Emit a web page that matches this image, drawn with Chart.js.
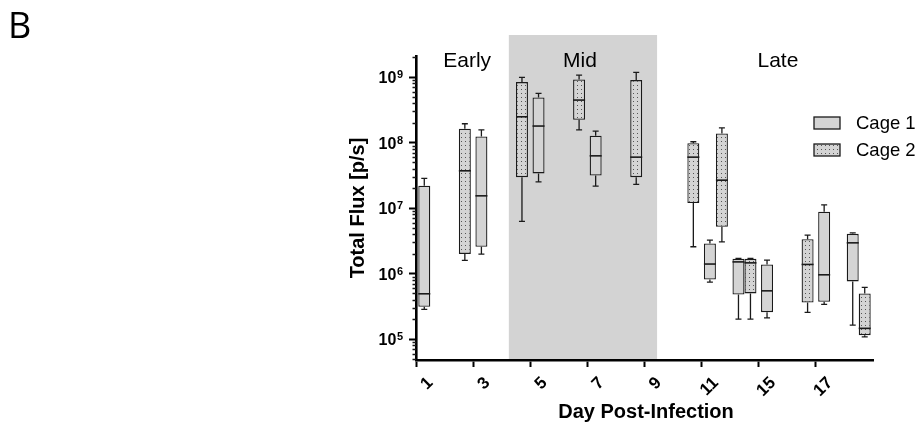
<!DOCTYPE html>
<html><head><meta charset="utf-8">
<script src="https://cdn.jsdelivr.net/npm/chart.js@4.4.1/dist/chart.umd.min.js"></script>
<style>html,body{margin:0;padding:0;background:#fff;}</style>
</head><body>
<canvas id="c" width="920" height="431"></canvas>
<script>
// ---- data ----
const slots = ['s1','s2','s3','s4','s5','s6','s7','s8','s9','s10','s11','s12','s13','s14','s15','s16'];
const tickLabels = ['1','','3','','5','','7','','9','','11','','15','','17',''];
const seriesNames = ['Cage 1','Cage 2'];
const cage1Min = [2.84e5,null,1.99e6,null,2.52e7,null,2.17e7,null,null,null,7.41e5,2.02e5,2.11e5,null,3.39e5,1.64e5];
const cage1Q1  = [3.11e5,null,2.57e6,null,3.39e7,null,3.15e7,null,null,null,8.15e5,4.81e5,2.58e5,null,3.71e5,7.6e5];
const cage1Med = [4.92e5,null,1.54e7,null,1.79e8,null,6.28e7,null,null,null,1.40e6,1.51e6,5.46e5,null,9.59e5,2.95e6];
const cage1Q3  = [2.19e7,null,1.24e8,null,4.9e8,null,1.27e8,null,null,null,2.89e6,1.69e6,1.38e6,null,8.78e6,4.05e6];
const cage1Max = [2.84e7,null,1.57e8,null,5.64e8,null,1.5e8,null,null,null,3.24e6,1.71e6,1.61e6,null,1.12e7,4.2e6];
const cage2Min = [null,1.59e6,null,6.27e6,null,1.57e8,null,2.3e7,null,2.57e6,3.06e6,2.02e5,null,2.56e5,null,1.08e5];
const cage2Q1  = [null,2.0e6,null,2.97e7,null,2.23e8,null,2.97e7,null,1.2e7,5.19e6,4.99e5,null,3.63e5,null,1.15e5];
const cage2Med = [null,3.71e7,null,2.48e8,null,4.46e8,null,6.0e7,null,6.0e7,2.67e7,1.46e6,null,1.38e6,null,1.46e5];
const cage2Q3  = [null,1.63e8,null,8.39e8,null,9.2e8,null,9.0e8,null,9.8e7,1.38e8,1.68e6,null,3.36e6,null,4.99e5];
const cage2Max = [null,1.94e8,null,9.9e8,null,1.07e9,null,1.18e9,null,1.03e8,1.68e8,1.71e6,null,3.87e6,null,6.15e5];
const phaseNames = ['Early','Mid','Late'];

// ---- styles ----
const FONT = "'Liberation Sans', Arial, sans-serif";
const BOXFILL = '#d4d4d4';
const INK = '#1a1a1a';
function dotPattern() {
  const p = document.createElement('canvas');
  p.width = 4; p.height = 4;
  const g = p.getContext('2d');
  g.fillStyle = BOXFILL; g.fillRect(0,0,4,4);
  g.fillStyle = '#555'; g.fillRect(1,1,1,1);
  return g.createPattern(p, 'repeat');
}
const DOTS = dotPattern();

function isPow10(v){ const e = Math.log10(v); return Math.abs(e - Math.round(e)) < 1e-9; }

const stats = [
  {min:cage1Min,q1:cage1Q1,med:cage1Med,q3:cage1Q3,max:cage1Max},
  {min:cage2Min,q1:cage2Q1,med:cage2Med,q3:cage2Q3,max:cage2Max}
];

const boxPlugin = {
  id: 'boxExtras',
  beforeDraw(chart) {
    const {ctx, chartArea, scales:{x}} = chart;
    const x0 = x.getPixelForValue(2.75), x1 = x.getPixelForValue(7.94);
    ctx.save();
    ctx.fillStyle = '#d3d3d3';
    ctx.fillRect(x0, chartArea.top - 21, x1 - x0, chartArea.bottom - chartArea.top + 21);
    ctx.restore();
  },
  afterDatasetsDraw(chart) {
    const {ctx, chartArea, scales:{x, y}} = chart;
    ctx.save();
    ctx.strokeStyle = INK;
    stats.forEach((s, di) => {
      const meta = chart.getDatasetMeta(di);
      meta.data.forEach((bar, i) => {
        if (s.q1[i] == null) return;
        const cx = bar.x, w = bar.width;
        const yMin = y.getPixelForValue(s.min[i]), yQ1 = y.getPixelForValue(s.q1[i]);
        const yMed = y.getPixelForValue(s.med[i]);
        const yQ3 = y.getPixelForValue(s.q3[i]), yMax = y.getPixelForValue(s.max[i]);
        ctx.lineWidth = 1.3;
        ctx.beginPath();
        ctx.moveTo(cx, yQ3); ctx.lineTo(cx, yMax);
        ctx.moveTo(cx - 3, yMax); ctx.lineTo(cx + 3, yMax);
        ctx.moveTo(cx, yQ1); ctx.lineTo(cx, yMin);
        ctx.moveTo(cx - 3, yMin); ctx.lineTo(cx + 3, yMin);
        ctx.stroke();
        ctx.lineWidth = 1.6;
        ctx.beginPath();
        ctx.moveTo(cx - w/2, yMed); ctx.lineTo(cx + w/2, yMed);
        ctx.stroke();
      });
    });
    // minor y ticks
    ctx.lineWidth = 1.5;
    ctx.beginPath();
    for (let e = 4; e <= 9; e++) {
      for (let k = 2; k <= 9; k++) {
        const v = k * Math.pow(10, e);
        if (v < y.min || v > y.max) continue;
        const py = Math.round(y.getPixelForValue(v)) + 0.5;
        ctx.moveTo(chartArea.left - 3.5, py); ctx.lineTo(chartArea.left, py);
      }
    }
    ctx.stroke();
    // y tick labels: 10 with superscript exponent
    ctx.fillStyle = '#000';
    y.ticks.forEach(t => {
      if (!isPow10(t.value)) return;
      const py = y.getPixelForValue(t.value);
      const ex = String(Math.round(Math.log10(t.value)));
      ctx.font = 'bold 11px ' + FONT;
      const ew = ctx.measureText(ex).width;
      ctx.textAlign = 'right'; ctx.textBaseline = 'alphabetic';
      const right = chartArea.left - 13;
      ctx.fillText(ex, right, py + 1);
      ctx.font = 'bold 16px ' + FONT;
      ctx.fillText('10', right - ew - 0.5, py + 6);
    });
    // phase labels
    ctx.font = '21px ' + FONT;
    ctx.textAlign = 'center'; ctx.textBaseline = 'alphabetic';
    const phaseAt = [1.29, 5.24, 12.17];
    phaseNames.forEach((t, i) => ctx.fillText(t, x.getPixelForValue(phaseAt[i]), chartArea.top + 11));
    // axis titles
    ctx.font = 'bold 20px ' + FONT;
    ctx.fillText('Day Post-Infection', 646, 418);
    ctx.save();
    ctx.translate(364, 208);
    ctx.rotate(-Math.PI / 2);
    ctx.fillText('Total Flux [p/s]', 0, 0);
    ctx.restore();
    // panel letter
    ctx.textAlign = 'left';
    ctx.font = "36px 'Open Sans', " + FONT;
    ctx.fillText('B', 8, 38);
    // legend
    const fills = [BOXFILL, DOTS];
    seriesNames.forEach((n, i) => {
      const ly = 117 + i * 27;
      ctx.fillStyle = fills[i];
      ctx.fillRect(814, ly, 26, 12);
      ctx.lineWidth = 1.3; ctx.strokeStyle = INK;
      ctx.strokeRect(814, ly, 26, 12);
      ctx.fillStyle = '#000';
      ctx.font = '18.5px ' + FONT;
      ctx.fillText(n, 856, ly + 12);
    });
    ctx.restore();
  }
};

const toRange = (a, b) => a.map((v, i) => v == null ? null : [v, b[i]]);

new Chart(document.getElementById('c'), {
  type: 'bar',
  data: {
    labels: slots,
    datasets: [
      {label: seriesNames[0], data: toRange(cage1Q1, cage1Q3), backgroundColor: BOXFILL, borderColor: INK, borderWidth: 1.3, borderSkipped: false},
      {label: seriesNames[1], data: toRange(cage2Q1, cage2Q3), backgroundColor: DOTS, borderColor: INK, borderWidth: 1.3, borderSkipped: false}
    ]
  },
  options: {
    responsive: false,
    animation: false,
    categoryPercentage: 0.84,
    barPercentage: 1.0,
    layout: {padding: {top: 56, right: 47, left: 0, bottom: 0}},
    plugins: {legend: {display: false}, tooltip: {enabled: false}},
    scales: {
      x: {
        type: 'category',
        offset: true,
        afterFit(s) { s.height = 71; },
        grid: {drawOnChartArea: false, tickLength: 7, tickWidth: 2,
               tickColor: c => (c.index % 2 === 0 ? '#000' : 'rgba(0,0,0,0)')},
        border: {display: true, color: '#000', width: 2.6},
        ticks: {
          autoSkip: false, minRotation: 45, maxRotation: 45, padding: 6,
          color: '#000', font: {family: FONT, size: 17, weight: 'bold'},
          callback: (v, i) => tickLabels[i]
        }
      },
      y: {
        type: 'logarithmic',
        min: 4.8e4, max: 2.1e9,
        afterFit(s) { s.width = 416; },
        grid: {drawOnChartArea: false, tickLength: 7, tickWidth: 2,
               tickColor: c => (c.tick && isPow10(c.tick.value) ? '#000' : 'rgba(0,0,0,0)')},
        border: {display: true, color: '#000', width: 2.6},
        ticks: {display: false, autoSkip: false}
      }
    }
  },
  plugins: [boxPlugin]
});
</script>
</body></html>
